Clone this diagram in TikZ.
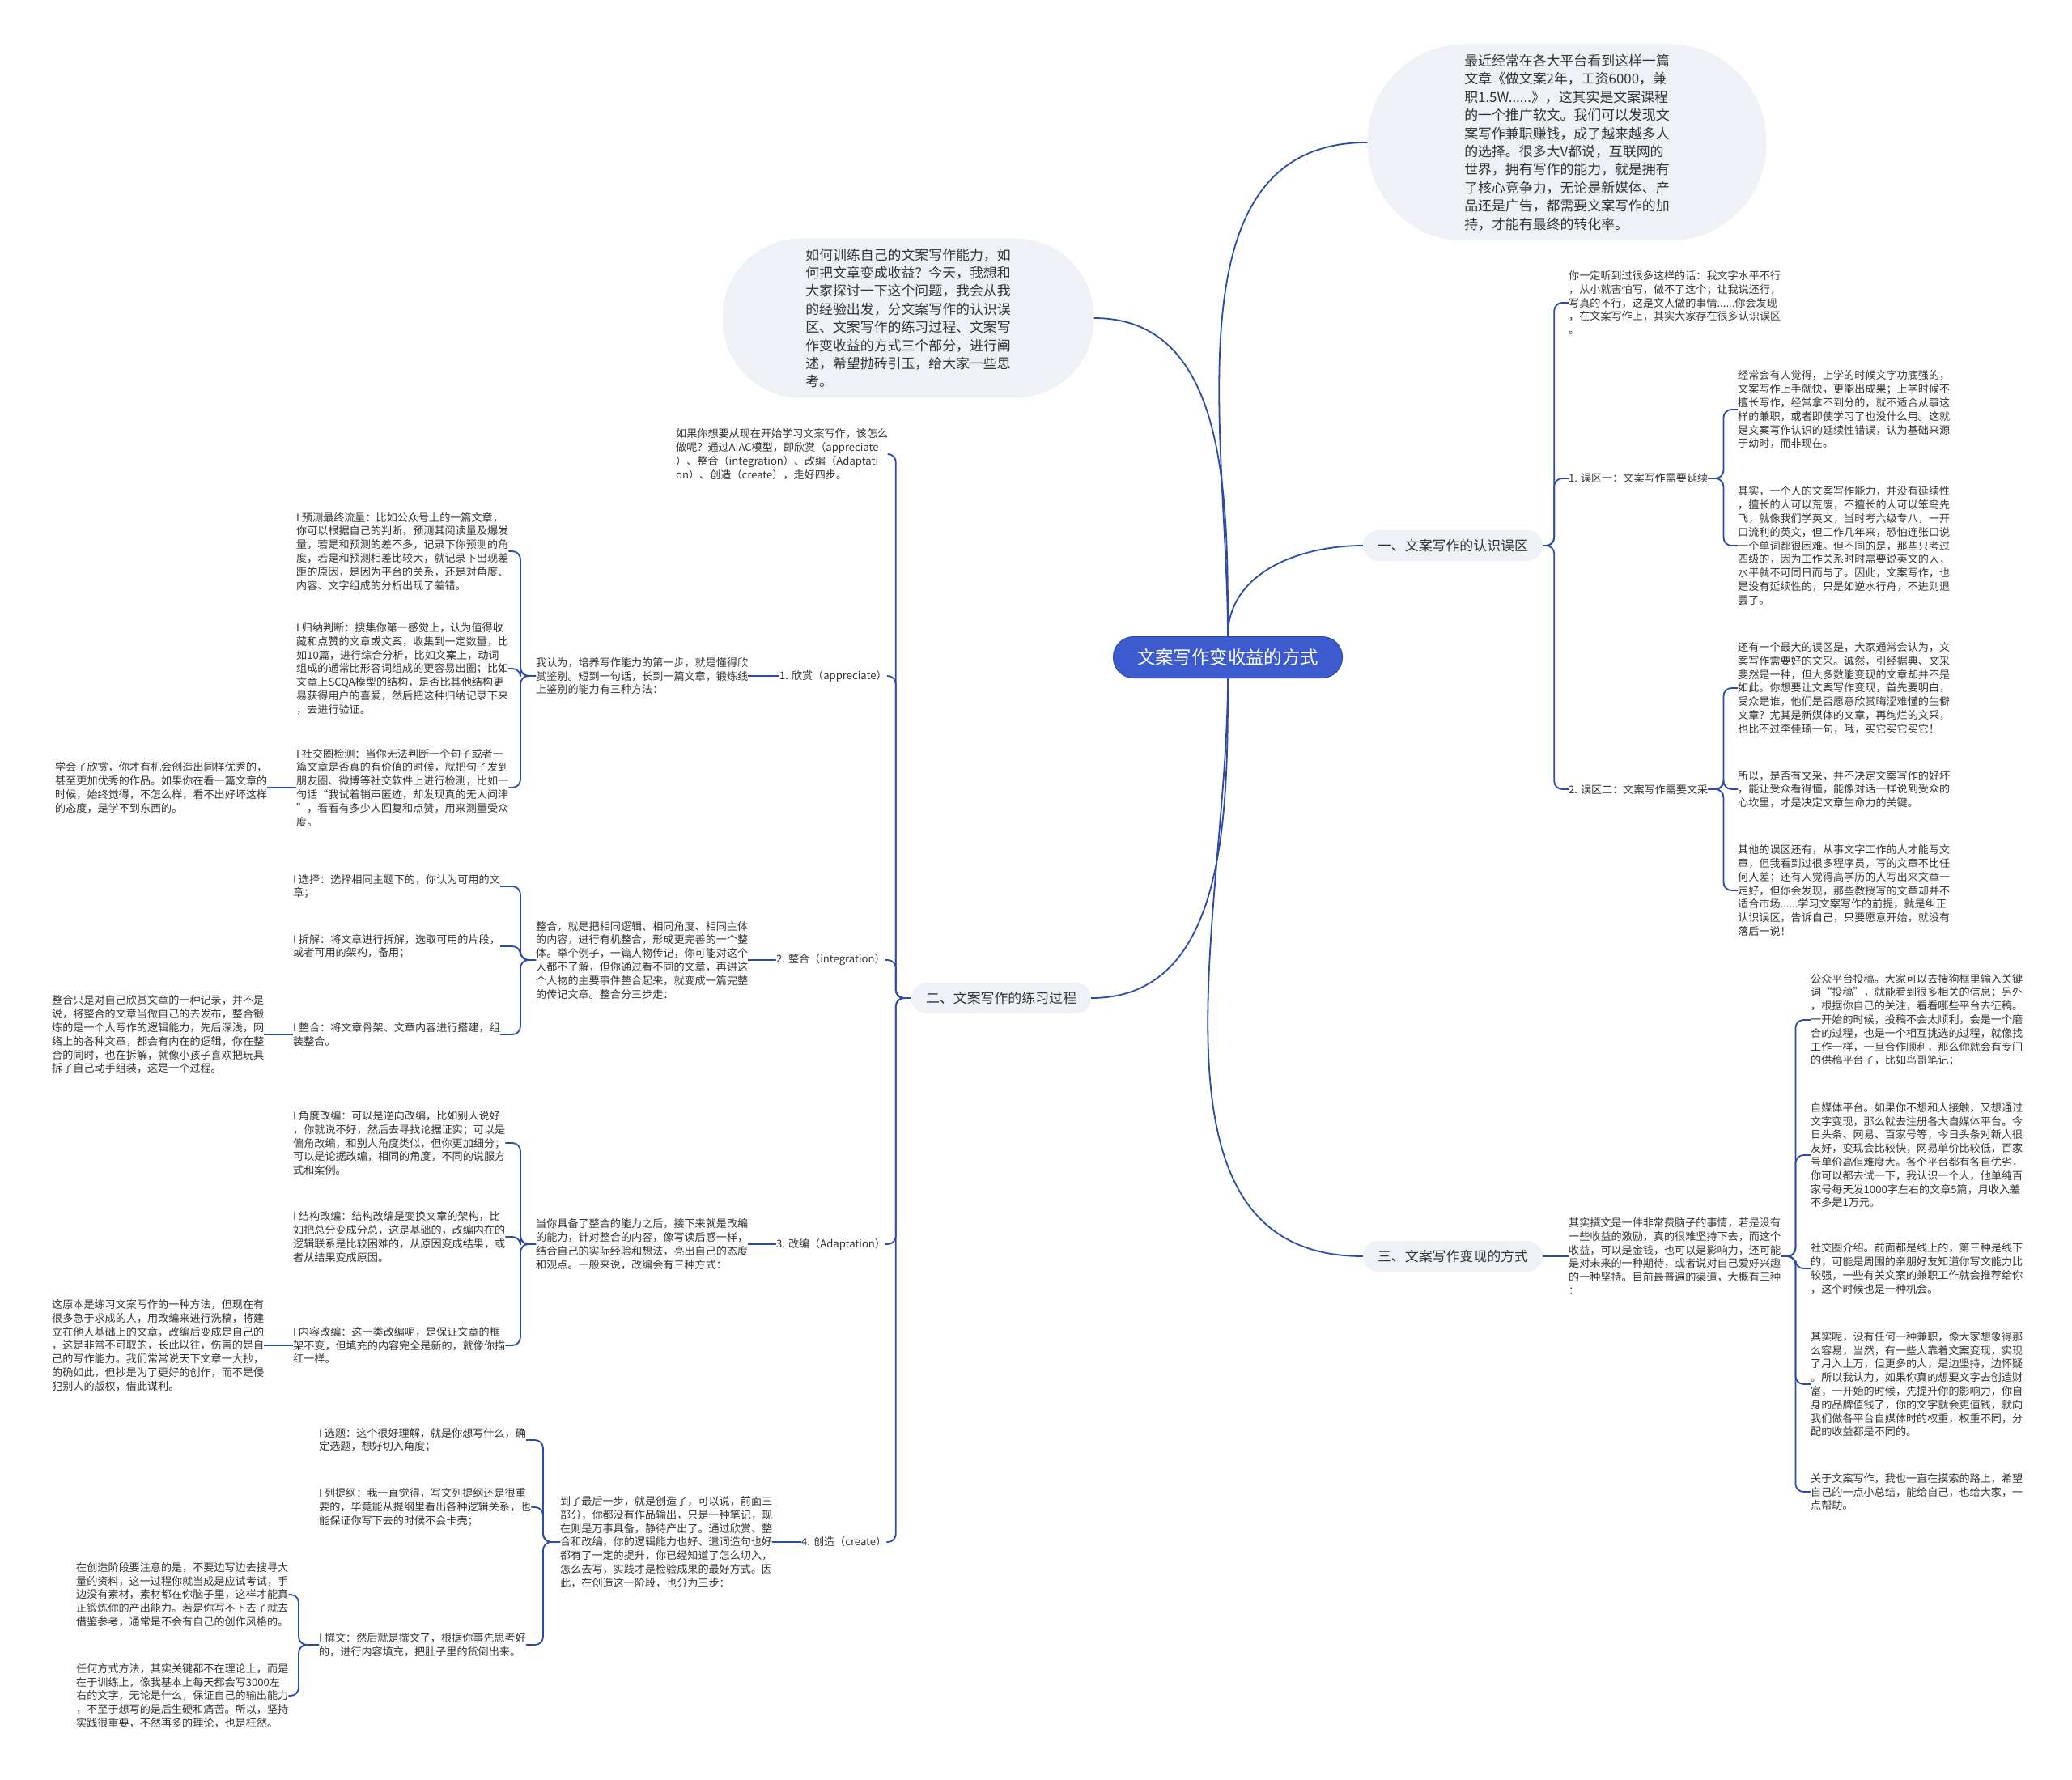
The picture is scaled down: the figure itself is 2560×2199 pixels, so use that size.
\documentclass[tikz,border=0pt]{standalone}
\usepackage{fontspec}
\setmainfont{Noto Sans CJK SC}
\usetikzlibrary{positioning}
\definecolor{linkblue}{HTML}{2C4BA6}
\definecolor{rootblue}{HTML}{3B5BCF}
\definecolor{paper}{HTML}{EEF1F5}
\definecolor{ink}{HTML}{333333}

\begin{document}
\begin{tikzpicture}[
  x=1pt,y=-1pt,
  link/.style={draw=linkblue,line width=1.8pt,rounded corners=10pt},
  note/.style={align=left,inner sep=0pt,anchor=west,text=ink,
    font=\fontsize{13.1}{16.8}\selectfont},
  topic/.style={fill=paper,rounded corners=19pt,minimum width=222pt,
    minimum height=38pt,inner sep=0pt,text=ink,font=\fontsize{16.9}{20}\selectfont},
  bubble/.style={fill=paper,align=left,inner sep=0pt,text=ink,
    font=\fontsize{16.9}{22.4}\selectfont},
  rootbox/.style={fill=rootblue,draw=linkblue,line width=1pt,text=white,
    rounded corners=25pt,minimum width=283pt,minimum height=51pt,
    inner sep=0pt,font=\fontsize{22.4}{26}\selectfont}
]
\useasboundingbox (0,0) rectangle (2560,2199);

% root and first level
\node[rootbox] (root) at (1517,812) {文案写作变收益的方式};
\node[bubble,minimum width=493pt,minimum height=243pt,rounded corners=120pt]
  (topbub) at (1936,176) {最近经常在各大平台看到这样一篇\\文章《做文案2年，工资6000，兼\\职1.5W......》，这其实是文案课程\\的一个推广软文。我们可以发现文\\案写作兼职赚钱，成了越来越多人\\的选择。很多大V都说，互联网的\\世界，拥有写作的能力，就是拥有\\了核心竞争力，无论是新媒体、产\\品还是广告，都需要文案写作的加\\持，才能有最终的转化率。};
\node[bubble,minimum width=459pt,minimum height=197pt,rounded corners=97pt]
  (midbub) at (1122,393) {如何训练自己的文案写作能力，如\\何把文章变成收益？今天，我想和\\大家探讨一下这个问题，我会从我\\的经验出发，分文案写作的认识误\\区、文案写作的练习过程、文案写\\作变收益的方式三个部分，进行阐\\述，希望抛砖引玉，给大家一些思\\考。};
\node[topic] (n1) at (1795,674) {一、文案写作的认识误区};
\node[topic] (n2) at (1237,1233) {二、文案写作的练习过程};
\node[topic] (n3) at (1795,1552) {三、文案写作变现的方式};

\draw[link] (root.north) to[out=90,in=180] (topbub.west);
\draw[link] (root.north) to[out=90,in=180] (n1.west);
\draw[link] (root.north) to[out=90,in=0] (midbub.east);
\draw[link] (root.south) to[out=-90,in=180] (n3.west);
\draw[link] (root.south) to[out=-90,in=0] (n2.east);

% 一
\node[note] (intro) at (1938,374) {你一定听到过很多这样的话：我文字水平不行\\，从小就害怕写，做不了这个；让我说还行，\\写真的不行，这是文人做的事情......你会发现\\，在文案写作上，其实大家存在很多认识误区\\。};
\node[note] (wq1) at (1938,591) {1. 误区一：文案写作需要延续};
\node[note] (wq2) at (1938,975) {2. 误区二：文案写作需要文采};
\node[note] (t11) at (2147,506) {经常会有人觉得，上学的时候文字功底强的，\\文案写作上手就快，更能出成果；上学时候不\\擅长写作，经常拿不到分的，就不适合从事这\\样的兼职，或者即使学习了也没什么用。这就\\是文案写作认识的延续性错误，认为基础来源\\于幼时，而非现在。};
\node[note] (t12) at (2147,674) {其实，一个人的文案写作能力，并没有延续性\\，擅长的人可以荒废，不擅长的人可以笨鸟先\\飞，就像我们学英文，当时考六级专八，一开\\口流利的英文，但工作几年来，恐怕连张口说\\一个单词都很困难。但不同的是，那些只考过\\四级的，因为工作关系时时需要说英文的人，\\水平就不可同日而与了。因此，文案写作，也\\是没有延续性的，只是如逆水行舟，不进则退\\罢了。};
\node[note] (t21) at (2147,850) {还有一个最大的误区是，大家通常会认为，文\\案写作需要好的文采。诚然，引经据典、文采\\斐然是一种，但大多数能变现的文章却并不是\\如此。你想要让文案写作变现，首先要明白，\\受众是谁，他们是否愿意欣赏晦涩难懂的生僻\\文章？尤其是新媒体的文章，再绚烂的文采，\\也比不过李佳琦一句，哦，买它买它买它！};
\node[note] (t22) at (2147,975) {所以，是否有文采，并不决定文案写作的好坏\\，能让受众看得懂，能像对话一样说到受众的\\心坎里，才是决定文章生命力的关键。};
\node[note] (t23) at (2147,1100) {其他的误区还有，从事文字工作的人才能写文\\章，但我看到过很多程序员，写的文章不比任\\何人差；还有人觉得高学历的人写出来文章一\\定好，但你会发现，那些教授写的文章却并不\\适合市场......学习文案写作的前提，就是纠正\\认识误区，告诉自己，只要愿意开始，就没有\\落后一说！};
\foreach \c in {intro,wq1,wq2}
  \draw[link] (n1.east) -- ++(14,0) |- (\c.west);
\foreach \c in {t11,t12}
  \draw[link] (wq1.east) -- ++(19,0) |- (\c.west);
\foreach \c in {t21,t22,t23}
  \draw[link] (wq2.east) -- ++(19,0) |- (\c.west);

% 三
\node[note] (t3) at (1938,1552) {其实撰文是一件非常费脑子的事情，若是没有\\一些收益的激励，真的很难坚持下去，而这个\\收益，可以是金钱，也可以是影响力，还可能\\是对未来的一种期待，或者说对自己爱好兴趣\\的一种坚持。目前最普遍的渠道，大概有三种\\：};
\node[note] (c31) at (2237,1260) {公众平台投稿。大家可以去搜狗框里输入关键\\词“投稿”，就能看到很多相关的信息；另外\\，根据你自己的关注，看看哪些平台去征稿。\\一开始的时候，投稿不会太顺利，会是一个磨\\合的过程，也是一个相互挑选的过程，就像找\\工作一样，一旦合作顺利，那么你就会有专门\\的供稿平台了，比如鸟哥笔记；};
\node[note] (c32) at (2237,1427) {自媒体平台。如果你不想和人接触，又想通过\\文字变现，那么就去注册各大自媒体平台。今\\日头条、网易、百家号等，今日头条对新人很\\友好，变现会比较快，网易单价比较低，百家\\号单价高但难度大。各个平台都有各自优劣，\\你可以都去试一下，我认识一个人，他单纯百\\家号每天发1000字左右的文章5篇，月收入差\\不多是1万元。};
\node[note] (c33) at (2237,1567) {社交圈介绍。前面都是线上的，第三种是线下\\的，可能是周围的亲朋好友知道你写文能力比\\较强，一些有关文案的兼职工作就会推荐给你\\，这个时候也是一种机会。};
\node[note] (c34) at (2237,1710) {其实呢，没有任何一种兼职，像大家想象得那\\么容易，当然，有一些人靠着文案变现，实现\\了月入上万，但更多的人，是边坚持，边怀疑\\。所以我认为，如果你真的想要文字去创造财\\富，一开始的时候，先提升你的影响力，你自\\身的品牌值钱了，你的文字就会更值钱，就向\\我们做各平台自媒体时的权重，权重不同，分\\配的收益都是不同的。};
\node[note] (c35) at (2237,1843) {关于文案写作，我也一直在摸索的路上，希望\\自己的一点小总结，能给自己，也给大家，一\\点帮助。};
\draw[link] (n3.east) -- (t3.west);
\foreach \c in {c31,c32,c33,c34,c35}
  \draw[link] (t3.east) -- ++(18,0) |- (\c.west);

% 二
\node[note] (aiac) at (835,561) {如果你想要从现在开始学习文案写作，该怎么\\做呢？通过AIAC模型，即欣赏（appreciate\\）、整合（integration）、改编（Adaptati\\on）、创造（create），走好四步。};
\node[note] (s1) at (963,835) {1. 欣赏（appreciate）};
\node[note] (s2) at (959,1186) {2. 整合（integration）};
\node[note] (s3) at (959,1537) {3. 改编（Adaptation）};
\node[note] (s4) at (990,1905) {4. 创造（create）};
\foreach \c in {aiac,s1,s2,s3,s4}
  \draw[link] (n2.west) -- ++(-19,0) |- (\c.east);

\node[note] (e1) at (662,835) {我认为，培养写作能力的第一步，就是懂得欣\\赏鉴别。短到一句话，长到一篇文章，锻炼线\\上鉴别的能力有三种方法：};
\node[note] (e11) at (366,681) {I 预测最终流量：比如公众号上的一篇文章，\\你可以根据自己的判断，预测其阅读量及爆发\\量，若是和预测的差不多，记录下你预测的角\\度，若是和预测相差比较大，就记录下出现差\\距的原因，是因为平台的关系，还是对角度、\\内容、文字组成的分析出现了差错。};
\node[note] (e12) at (366,826) {I 归纳判断：搜集你第一感觉上，认为值得收\\藏和点赞的文章或文案，收集到一定数量，比\\如10篇，进行综合分析，比如文案上，动词\\组成的通常比形容词组成的更容易出圈；比如\\文章上SCQA模型的结构，是否比其他结构更\\易获得用户的喜爱，然后把这种归纳记录下来\\，去进行验证。};
\node[note] (e13) at (366,973) {I 社交圈检测：当你无法判断一个句子或者一\\篇文章是否真的有价值的时候，就把句子发到\\朋友圈、微博等社交软件上进行检测，比如一\\句话“我试着销声匿迹，却发现真的无人问津\\”，看看有多少人回复和点赞，用来测量受众\\度。};
\node[note] (e131) at (68,973) {学会了欣赏，你才有机会创造出同样优秀的，\\甚至更加优秀的作品。如果你在看一篇文章的\\时候，始终觉得，不怎么样，看不出好坏这样\\的态度，是学不到东西的。};
\draw[link] (s1.west) -- (e1.east);
\foreach \c in {e11,e12,e13}
  \draw[link] (e1.west) -- ++(-19,0) |- (\c.east);
\draw[link] (e13.west) -- (e131.east);

\node[note] (e2) at (662,1186) {整合，就是把相同逻辑、相同角度、相同主体\\的内容，进行有机整合，形成更完善的一个整\\体。举个例子，一篇人物传记，你可能对这个\\人都不了解，但你通过看不同的文章，再讲这\\个人物的主要事件整合起来，就变成一篇完整\\的传记文章。整合分三步走：};
\node[note] (e21) at (362,1095) {I 选择：选择相同主题下的，你认为可用的文\\章；};
\node[note] (e22) at (362,1169) {I 拆解：将文章进行拆解，选取可用的片段，\\或者可用的架构，备用；};
\node[note] (e23) at (362,1278) {I 整合：将文章骨架、文章内容进行搭建，组\\装整合。};
\node[note] (e231) at (64,1278) {整合只是对自己欣赏文章的一种记录，并不是\\说，将整合的文章当做自己的去发布，整合锻\\炼的是一个人写作的逻辑能力，先后深浅，网\\络上的各种文章，都会有内在的逻辑，你在整\\合的同时，也在拆解，就像小孩子喜欢把玩具\\拆了自己动手组装，这是一个过程。};
\draw[link] (s2.west) -- (e2.east);
\foreach \c in {e21,e22,e23}
  \draw[link] (e2.west) -- ++(-19,0) |- (\c.east);
\draw[link] (e23.west) -- (e231.east);

\node[note] (e3) at (662,1537) {当你具备了整合的能力之后，接下来就是改编\\的能力，针对整合的内容，像写读后感一样，\\结合自己的实际经验和想法，亮出自己的态度\\和观点。一般来说，改编会有三种方式：};
\node[note] (e31) at (362,1412) {I 角度改编：可以是逆向改编，比如别人说好\\，你就说不好，然后去寻找论据证实；可以是\\偏角改编，和别人角度类似，但你更加细分；\\可以是论据改编，相同的角度，不同的说服方\\式和案例。};
\node[note] (e32) at (362,1528) {I 结构改编：结构改编是变换文章的架构，比\\如把总分变成分总，这是基础的，改编内在的\\逻辑联系是比较困难的，从原因变成结果，或\\者从结果变成原因。};
\node[note] (e33) at (362,1662) {I 内容改编：这一类改编呢，是保证文章的框\\架不变，但填充的内容完全是新的，就像你描\\红一样。};
\node[note] (e331) at (64,1662) {这原本是练习文案写作的一种方法，但现在有\\很多急于求成的人，用改编来进行洗稿，将建\\立在他人基础上的文章，改编后变成是自己的\\，这是非常不可取的，长此以往，伤害的是自\\己的写作能力。我们常常说天下文章一大抄，\\的确如此，但抄是为了更好的创作，而不是侵\\犯别人的版权，借此谋利。};
\draw[link] (s3.west) -- (e3.east);
\foreach \c in {e31,e32,e33}
  \draw[link] (e3.west) -- ++(-19,0) |- (\c.east);
\draw[link] (e33.west) -- (e331.east);

\node[note] (e4) at (692,1905) {到了最后一步，就是创造了，可以说，前面三\\部分，你都没有作品输出，只是一种笔记，现\\在则是万事具备，静待产出了。通过欣赏、整\\合和改编，你的逻辑能力也好、遣词造句也好\\都有了一定的提升，你已经知道了怎么切入，\\怎么去写，实践才是检验成果的最好方式。因\\此，在创造这一阶段，也分为三步：};
\node[note] (e41) at (394,1779) {I 选题：这个很好理解，就是你想写什么，确\\定选题，想好切入角度；};
\node[note] (e42) at (394,1862) {I 列提纲：我一直觉得，写文列提纲还是很重\\要的，毕竟能从提纲里看出各种逻辑关系，也\\能保证你写下去的时候不会卡壳；};
\node[note] (e43) at (394,2032) {I 撰文：然后就是撰文了，根据你事先思考好\\的，进行内容填充，把肚子里的货倒出来。};
\node[note] (e431) at (94,1970) {在创造阶段要注意的是，不要边写边去搜寻大\\量的资料，这一过程你就当成是应试考试，手\\边没有素材，素材都在你脑子里，这样才能真\\正锻炼你的产出能力。若是你写不下去了就去\\借鉴参考，通常是不会有自己的创作风格的。};
\node[note] (e432) at (94,2095) {任何方式方法，其实关键都不在理论上，而是\\在于训练上，像我基本上每天都会写3000左\\右的文字，无论是什么，保证自己的输出能力\\，不至于想写的是后生硬和痛苦。所以，坚持\\实践很重要，不然再多的理论，也是枉然。};
\draw[link] (s4.west) -- (e4.east);
\foreach \c in {e41,e42,e43}
  \draw[link] (e4.west) -- ++(-21,0) |- (\c.east);
\foreach \c in {e431,e432}
  \draw[link] (e43.west) -- ++(-25,0) |- (\c.east);
\end{tikzpicture}
\end{document}
